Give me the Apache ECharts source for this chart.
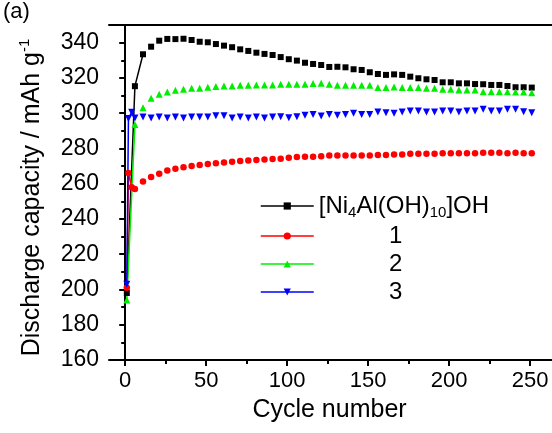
<!DOCTYPE html>
<html>
<head>
<meta charset="utf-8">
<script src="https://cdn.jsdelivr.net/npm/echarts@6.0.0/dist/echarts.min.js"></script>
<style>
html,body{margin:0;padding:0;background:#fff;}
#chart{width:552px;height:433px;}
</style>
</head>
<body>
<div id="chart"></div>
<script>
// ---- data ----
const seriesNames = ['[Ni4Al(OH)10]OH', '1', '2', '3'];
const cycles = [1,6,11,16,21,26,31,36,41,46,51,56,61,66,71,76,81,86,91,96,101,106,111,116,121,126,131,136,141,146,151,156,161,166,171,176,181,186,191,196,201,206,211,216,221,226,231,236,241,246,251];
const blackValues = [198,315.3,333.4,337.7,341.1,342.1,342,342.2,341.5,340.5,340.2,339.2,338.3,337.4,336.2,335.3,334.3,333.6,333,331.8,330.6,329.8,328.6,327.9,327.3,326.2,326.3,326,324.9,324.5,323.2,322.2,321.7,322,321.7,320.7,319.8,319.2,318.8,317.5,317.5,316.9,316.9,316.5,316.4,316,316,315.4,314.7,314.7,314.5];
const redValues = [201,257,261.3,263.8,265.7,267.5,268.5,269.3,270,270.6,271.1,271.6,272,272.4,272.8,273.1,273.4,273.7,274,274.1,274.7,275.1,275.3,275.3,275.6,276,276,276,276,276,276,276.2,276.2,276.6,276.6,277,277,277,277,277.2,277.2,277.2,277.2,277.2,277.6,277.6,277.6,277.2,277.6,277.2,277.2];
const greenValues = [194,293.5,303.1,308.4,310.7,312,313,313.5,314.1,314.1,314.7,315.1,315.4,315.4,315.8,315.8,316,316,316,316.4,316.4,316.4,316.4,316.8,316.9,316.4,315.8,315.8,315.8,315.8,315.8,314.5,314.5,314.8,314.5,314.5,314.5,314.1,314.1,313.5,313.5,313.1,313.1,313.1,312.2,312.2,312.2,312.2,312,312,311.6];
const blueValues = [203,297.3,297.8,297.2,297.8,297.2,297.8,297.2,297.8,297.8,297.8,298.5,298.5,297.2,297.8,297.2,297.8,297.2,297.8,298,297.4,298,298.8,299.3,298.4,299.3,298.8,299.3,299.9,299.3,299.3,300.6,300.3,299.9,300.6,301.2,301.2,300.6,300.6,301.2,301.2,300.6,301.2,301.2,302.2,301.2,301.2,302.2,302.2,300.8,300.3];
// extra early cycles
const redExtraCycles = [2, 4];
const redExtraValues = [266, 258];
const blueExtraCycles = [2, 4];
const blueExtraValues = [297, 300.5];
// ticks
const xTickValues = [0, 50, 100, 150, 200, 250];
const xMinorTickValues = [25, 75, 125, 175, 225];
const yTickValues = [160, 180, 200, 220, 240, 260, 280, 300, 320, 340];

function pairs(xs, ys, ex, ey) {
  const out = xs.map((x, i) => [x, ys[i]]);
  if (ex) ex.forEach((x, i) => out.push([x, ey[i]]));
  out.sort((a, b) => a[0] - b[0]);
  return out;
}
const blackData = pairs(cycles, blackValues);
const redData = pairs(cycles, redValues, redExtraCycles, redExtraValues);
const greenData = pairs(cycles, greenValues);
const blueData = pairs(cycles, blueValues, blueExtraCycles, blueExtraValues);

const colors = ['#000000', '#ff0000', '#00ee00', '#0000ff'];
const symbols = ['rect', 'circle', 'triangle', 'path://M0,0 L10,0 L5,9 Z'];
const sizes = [6, 6.5, 7, 7];
const leadLimits = [11, 6, 6, 6];
const datas = [blackData, redData, greenData, blueData];

const series = [];
datas.forEach((d, i) => {
  series.push({
    name: 'lead' + i, type: 'line', data: d.filter(p => p[0] <= leadLimits[i]),
    showSymbol: false, symbol: 'none', z: 1,
    lineStyle: {color: colors[i], width: 1.5}, silent: true
  });
});
datas.forEach((d, i) => {
  series.push({
    name: seriesNames[i], type: 'line', data: d, z: 3,
    symbol: symbols[i], symbolSize: sizes[i], showAllSymbol: true,
    itemStyle: {color: colors[i]},
    lineStyle: {color: colors[i], width: 1.5, opacity: 0}
  });
});

const font = 'Liberation Sans, Arial, sans-serif';
const chart = echarts.init(document.getElementById('chart'), null, {renderer: 'canvas'});
chart.setOption({
  animation: false,
  backgroundColor: '#ffffff',
  textStyle: {fontFamily: font, color: '#000'},
  grid: {left: 109, top: 25, right: 0, height: 335, show: false},
  xAxis: [{
    type: 'value', min: -10, max: 263.5, position: 'bottom',
    axisLine: {lineStyle: {color: '#000', width: 2}},
    axisTick: {customValues: xTickValues, length: 6, lineStyle: {color: '#000', width: 2}},
    axisLabel: {customValues: xTickValues, color: '#000', fontSize: 22, fontFamily: font, margin: 10},
    splitLine: {show: false},
    name: 'Cycle number', nameLocation: 'middle', nameGap: 38,
    nameTextStyle: {fontSize: 25, color: '#000', fontFamily: font, padding: [0, 2, 0, 0]}
  }, {
    type: 'value', min: -10, max: 263.5, position: 'bottom',
    axisLine: {show: false},
    axisTick: {customValues: xMinorTickValues, length: 4, lineStyle: {color: '#000', width: 2}},
    axisLabel: {show: false}, splitLine: {show: false}
  }, {
    type: 'value', min: -10, max: 263.5, position: 'top',
    axisLine: {show: true, lineStyle: {color: '#000', width: 2}},
    axisTick: {show: false}, axisLabel: {show: false}, splitLine: {show: false}
  }],
  yAxis: [{
    type: 'value', min: 160, max: 350, position: 'left',
    axisLine: {show: true, lineStyle: {color: '#000', width: 2}},
    axisTick: {show: true, customValues: yTickValues, length: 6, lineStyle: {color: '#000', width: 2}},
    axisLabel: {customValues: yTickValues, color: '#000', fontSize: 23, fontFamily: font, margin: 10},
    splitLine: {show: false},
    name: '{a|Discharge capacity / mAh g}{s|-1}', nameLocation: 'middle', nameGap: 62,
    nameTextStyle: {color: '#000', fontFamily: font, padding: [0, 10, 0, 0],
      rich: {a: {fontSize: 25, lineHeight: 30, fontFamily: font, color: '#000'},
             s: {fontSize: 15, lineHeight: 12, verticalAlign: 'top', fontFamily: font, color: '#000'}}}
  }, {
    type: 'value', min: 160, max: 350, interval: 10, position: 'left', offset: 0,
    axisLine: {show: false},
    axisTick: {show: true, length: 4, lineStyle: {color: '#000', width: 2}},
    axisLabel: {show: false}, splitLine: {show: false}
  }],
  legend: {
    data: seriesNames, orient: 'vertical', left: 255, top: 189,
    itemWidth: 53, itemHeight: 9, itemGap: 4,
    lineStyle: {opacity: 1, width: 1.5},
    formatter: function (name) {
      if (name === seriesNames[0]) return '{t|[Ni}{s|4}{t|Al(OH)}{s|10}{t|]OH}';
      return '{c|' + name + '}';
    },
    textStyle: {color: '#000', fontSize: 24, fontFamily: font,
      rich: {t: {fontSize: 24, lineHeight: 28, fontFamily: font, color: '#000'},
             s: {fontSize: 15, lineHeight: 6, verticalAlign: 'bottom', fontFamily: font, color: '#000'},
             c: {fontSize: 24, lineHeight: 28, width: 154, align: 'center', fontFamily: font, color: '#000'}}}
  },
  graphic: [{type: 'text', left: 3, top: 1, style: {text: '(a)', fontSize: 22, fontFamily: font, fill: '#000'}}],
  series: series
});
</script>
</body>
</html>
